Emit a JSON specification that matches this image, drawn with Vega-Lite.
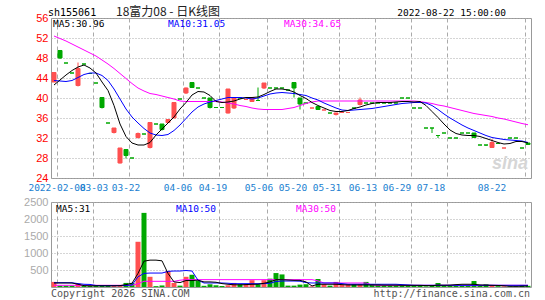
{
"$schema": "https://vega.github.io/schema/vega-lite/v6.json",
"background": "white",
"padding": {"left": 20, "top": 5, "right": 14, "bottom": 0},
"spacing": 3,
"config": {"view": {"stroke": "#999", "strokeWidth": 1}, "text": {"font": "DejaVu Sans Mono"}, "axis": {"labelOverlap": false}},
"datasets": {"k": [
{"d":"2022-02-07","o":43.2,"h":45.1,"l":43.2,"c":45.1,"v":150,"dir":"up","m5":42.6,"m10":43.5,"m30":52.4,"vm5":118,"vm10":127,"vm30":50},
{"d":"2022-02-08","o":49.5,"h":49.6,"l":47.8,"c":48.0,"v":40,"dir":"down","m5":43.6,"m10":43.4,"m30":51.9,"vm5":118,"vm10":127,"vm30":50},
{"d":"2022-02-10","o":47.0,"h":47.0,"l":47.0,"c":47.0,"v":40,"dir":"down","m5":44.6,"m10":43.3,"m30":51.4,"vm5":118,"vm10":127,"vm30":50},
{"d":"2022-02-15","o":45.0,"h":45.0,"l":45.0,"c":45.0,"v":40,"dir":"down","m5":45.5,"m10":43.5,"m30":50.8,"vm5":118,"vm10":125,"vm30":50},
{"d":"2022-02-18","o":42.5,"h":47.1,"l":42.3,"c":45.9,"v":100,"dir":"up","m5":46.2,"m10":44.1,"m30":50.2,"vm5":80,"vm10":100,"vm30":50},
{"d":"2022-02-23","o":46.8,"h":46.8,"l":46.8,"c":46.8,"v":35,"dir":"down","m5":46.6,"m10":44.7,"m30":49.6,"vm5":40,"vm10":80,"vm30":50},
{"d":"2022-02-28","o":44.9,"h":44.9,"l":44.9,"c":44.9,"v":35,"dir":"down","m5":46.0,"m10":45.0,"m30":49.0,"vm5":35,"vm10":75,"vm30":50},
{"d":"2022-03-03","o":43.0,"h":43.0,"l":43.0,"c":43.0,"v":35,"dir":"down","m5":45.0,"m10":45.0,"m30":48.4,"vm5":35,"vm10":45,"vm30":50},
{"d":"2022-03-07","o":40.1,"h":40.1,"l":37.9,"c":38.1,"v":40,"dir":"down","m5":43.2,"m10":44.5,"m30":47.6,"vm5":35,"vm10":40,"vm30":50},
{"d":"2022-03-10","o":35.0,"h":35.0,"l":35.0,"c":35.0,"v":30,"dir":"down","m5":41.5,"m10":43.5,"m30":46.8,"vm5":35,"vm10":40,"vm30":50},
{"d":"2022-03-14","o":33.1,"h":34.0,"l":32.9,"c":34.0,"v":35,"dir":"up","m5":38.5,"m10":41.8,"m30":45.9,"vm5":35,"vm10":40,"vm30":50},
{"d":"2022-03-16","o":27.0,"h":30.0,"l":26.9,"c":30.0,"v":40,"dir":"up","m5":34.8,"m10":39.8,"m30":44.9,"vm5":40,"vm10":40,"vm30":50},
{"d":"2022-03-18","o":29.7,"h":29.7,"l":27.9,"c":28.5,"v":120,"dir":"down","m5":32.3,"m10":37.8,"m30":43.9,"vm5":70,"vm10":45,"vm30":50},
{"d":"2022-03-22","o":28.0,"h":28.0,"l":28.0,"c":28.0,"v":120,"dir":"down","m5":31.0,"m10":36.2,"m30":42.9,"vm5":110,"vm10":60,"vm30":55},
{"d":"2022-03-23","o":32.1,"h":33.1,"l":31.9,"c":32.9,"v":1330,"dir":"up","m5":30.6,"m10":35.0,"m30":42.0,"vm5":400,"vm10":300,"vm30":95},
{"d":"2022-03-24","o":32.8,"h":32.8,"l":32.8,"c":32.8,"v":2180,"dir":"down","m5":30.6,"m10":33.9,"m30":41.4,"vm5":760,"vm10":400,"vm30":167},
{"d":"2022-03-25","o":30.1,"h":35.1,"l":29.9,"c":35.1,"v":300,"dir":"up","m5":31.1,"m10":33.0,"m30":40.9,"vm5":790,"vm10":410,"vm30":167},
{"d":"2022-03-28","o":34.8,"h":34.8,"l":34.8,"c":34.8,"v":25,"dir":"down","m5":32.6,"m10":32.6,"m30":40.7,"vm5":790,"vm10":410,"vm30":167},
{"d":"2022-03-29","o":34.8,"h":34.8,"l":33.5,"c":33.7,"v":45,"dir":"down","m5":33.8,"m10":32.5,"m30":40.4,"vm5":770,"vm10":410,"vm30":167},
{"d":"2022-03-30","o":35.1,"h":35.7,"l":35.0,"c":35.7,"v":470,"dir":"up","m5":35.0,"m10":32.7,"m30":40.1,"vm5":400,"vm10":460,"vm30":167},
{"d":"2022-03-31","o":36.0,"h":39.1,"l":36.0,"c":39.1,"v":120,"dir":"up","m5":36.2,"m10":33.5,"m30":39.8,"vm5":150,"vm10":470,"vm30":167},
{"d":"2022-04-01","o":39.8,"h":39.8,"l":39.8,"c":39.8,"v":40,"dir":"down","m5":37.8,"m10":34.6,"m30":39.4,"vm5":130,"vm10":470,"vm30":200},
{"d":"2022-04-06","o":41.0,"h":42.1,"l":40.8,"c":42.0,"v":300,"dir":"up","m5":39.1,"m10":35.9,"m30":39.3,"vm5":190,"vm10":485,"vm30":216},
{"d":"2022-04-07","o":43.1,"h":43.2,"l":42.0,"c":42.1,"v":360,"dir":"down","m5":40.6,"m10":37.2,"m30":39.3,"vm5":190,"vm10":470,"vm30":216},
{"d":"2022-04-08","o":42.0,"h":42.0,"l":42.0,"c":42.0,"v":180,"dir":"down","m5":41.3,"m10":38.2,"m30":39.3,"vm5":200,"vm10":200,"vm30":216},
{"d":"2022-04-11","o":40.0,"h":40.0,"l":40.0,"c":40.0,"v":35,"dir":"down","m5":41.2,"m10":38.8,"m30":39.3,"vm5":150,"vm10":118,"vm30":216},
{"d":"2022-04-13","o":40.0,"h":40.0,"l":37.9,"c":38.1,"v":80,"dir":"down","m5":40.5,"m10":39.2,"m30":39.3,"vm5":150,"vm10":118,"vm30":216},
{"d":"2022-04-15","o":38.1,"h":38.1,"l":38.1,"c":38.1,"v":50,"dir":"down","m5":39.3,"m10":39.5,"m30":39.3,"vm5":140,"vm10":118,"vm30":216},
{"d":"2022-04-19","o":38.1,"h":38.1,"l":38.1,"c":38.1,"v":30,"dir":"down","m5":39.1,"m10":39.8,"m30":39.2,"vm5":100,"vm10":118,"vm30":216},
{"d":"2022-04-20","o":37.0,"h":41.8,"l":36.9,"c":41.8,"v":50,"dir":"up","m5":39.2,"m10":40.1,"m30":39.0,"vm5":80,"vm10":110,"vm30":216},
{"d":"2022-04-22","o":38.0,"h":40.1,"l":37.8,"c":40.1,"v":120,"dir":"up","m5":39.4,"m10":40.1,"m30":38.8,"vm5":65,"vm10":98,"vm30":216},
{"d":"2022-04-25","o":40.0,"h":40.0,"l":40.0,"c":40.0,"v":80,"dir":"down","m5":39.8,"m10":40.1,"m30":38.5,"vm5":65,"vm10":98,"vm30":216},
{"d":"2022-04-26","o":39.7,"h":39.7,"l":39.7,"c":39.7,"v":80,"dir":"up","m5":40.1,"m10":40.0,"m30":38.3,"vm5":70,"vm10":98,"vm30":216},
{"d":"2022-04-28","o":39.3,"h":40.1,"l":39.2,"c":40.1,"v":200,"dir":"up","m5":40.1,"m10":39.8,"m30":38.0,"vm5":80,"vm10":98,"vm30":216},
{"d":"2022-04-29","o":39.5,"h":42.1,"l":39.4,"c":39.5,"v":80,"dir":"down","m5":40.2,"m10":40.0,"m30":37.8,"vm5":80,"vm10":98,"vm30":216},
{"d":"2022-05-05","o":42.0,"h":43.0,"l":41.8,"c":43.0,"v":200,"dir":"up","m5":40.7,"m10":40.4,"m30":37.7,"vm5":110,"vm10":98,"vm30":216},
{"d":"2022-05-06","o":42.0,"h":42.0,"l":42.0,"c":42.0,"v":245,"dir":"down","m5":41.3,"m10":40.8,"m30":37.7,"vm5":150,"vm10":110,"vm30":216},
{"d":"2022-05-09","o":42.0,"h":42.0,"l":42.0,"c":42.0,"v":410,"dir":"down","m5":41.8,"m10":41.0,"m30":37.7,"vm5":216,"vm10":160,"vm30":216},
{"d":"2022-05-11","o":42.0,"h":42.0,"l":42.0,"c":42.0,"v":370,"dir":"down","m5":41.8,"m10":41.1,"m30":37.7,"vm5":216,"vm10":176,"vm30":216},
{"d":"2022-05-13","o":41.6,"h":41.6,"l":41.6,"c":41.6,"v":40,"dir":"down","m5":41.6,"m10":41.0,"m30":37.9,"vm5":205,"vm10":176,"vm30":216},
{"d":"2022-05-16","o":43.1,"h":43.1,"l":40.1,"c":42.0,"v":40,"dir":"down","m5":41.2,"m10":40.9,"m30":38.1,"vm5":196,"vm10":176,"vm30":216},
{"d":"2022-05-18","o":40.0,"h":40.0,"l":37.7,"c":38.8,"v":70,"dir":"down","m5":40.5,"m10":40.7,"m30":38.5,"vm5":196,"vm10":170,"vm30":216},
{"d":"2022-05-20","o":39.0,"h":39.0,"l":39.0,"c":39.0,"v":80,"dir":"down","m5":39.9,"m10":40.5,"m30":38.9,"vm5":150,"vm10":130,"vm30":216},
{"d":"2022-05-23","o":38.0,"h":38.0,"l":38.0,"c":38.0,"v":20,"dir":"up","m5":39.1,"m10":40.0,"m30":39.2,"vm5":30,"vm10":118,"vm30":216},
{"d":"2022-05-24","o":38.3,"h":38.3,"l":37.6,"c":37.7,"v":235,"dir":"down","m5":38.5,"m10":39.6,"m30":39.4,"vm5":80,"vm10":118,"vm30":180},
{"d":"2022-05-25","o":37.6,"h":37.6,"l":37.6,"c":37.6,"v":80,"dir":"up","m5":38.0,"m10":39.0,"m30":39.4,"vm5":80,"vm10":118,"vm30":118},
{"d":"2022-05-26","o":37.0,"h":37.0,"l":37.0,"c":37.0,"v":40,"dir":"down","m5":37.5,"m10":38.5,"m30":39.4,"vm5":80,"vm10":118,"vm30":118},
{"d":"2022-05-27","o":36.7,"h":37.0,"l":36.5,"c":37.0,"v":150,"dir":"up","m5":37.3,"m10":38.0,"m30":39.4,"vm5":80,"vm10":118,"vm30":118},
{"d":"2022-05-31","o":37.1,"h":37.1,"l":37.1,"c":37.1,"v":60,"dir":"up","m5":37.3,"m10":37.6,"m30":39.4,"vm5":70,"vm10":100,"vm30":118},
{"d":"2022-06-01","o":37.1,"h":37.1,"l":37.1,"c":37.1,"v":80,"dir":"up","m5":37.5,"m10":37.5,"m30":39.4,"vm5":60,"vm10":80,"vm30":118},
{"d":"2022-06-02","o":38.0,"h":38.0,"l":38.0,"c":38.0,"v":80,"dir":"down","m5":37.9,"m10":37.6,"m30":39.4,"vm5":60,"vm10":80,"vm30":118},
{"d":"2022-06-06","o":38.7,"h":40.1,"l":38.5,"c":39.6,"v":80,"dir":"up","m5":38.2,"m10":37.7,"m30":39.4,"vm5":60,"vm10":80,"vm30":118},
{"d":"2022-06-08","o":39.0,"h":39.0,"l":39.0,"c":39.0,"v":150,"dir":"down","m5":38.6,"m10":37.8,"m30":39.4,"vm5":60,"vm10":80,"vm30":118},
{"d":"2022-06-10","o":39.0,"h":39.0,"l":39.0,"c":39.0,"v":80,"dir":"down","m5":38.9,"m10":37.9,"m30":39.4,"vm5":60,"vm10":80,"vm30":60},
{"d":"2022-06-13","o":39.0,"h":39.0,"l":39.0,"c":39.0,"v":70,"dir":"down","m5":39.1,"m10":38.1,"m30":39.4,"vm5":60,"vm10":80,"vm30":50},
{"d":"2022-06-15","o":39.0,"h":39.0,"l":39.0,"c":39.0,"v":50,"dir":"down","m5":39.1,"m10":38.3,"m30":39.4,"vm5":55,"vm10":80,"vm30":50},
{"d":"2022-06-17","o":39.0,"h":39.0,"l":39.0,"c":39.0,"v":50,"dir":"down","m5":39.1,"m10":38.5,"m30":39.4,"vm5":55,"vm10":80,"vm30":50},
{"d":"2022-06-21","o":39.0,"h":39.0,"l":39.0,"c":39.0,"v":50,"dir":"down","m5":39.2,"m10":38.7,"m30":39.4,"vm5":55,"vm10":80,"vm30":50},
{"d":"2022-06-23","o":40.0,"h":40.0,"l":40.0,"c":40.0,"v":50,"dir":"down","m5":39.3,"m10":38.9,"m30":39.4,"vm5":50,"vm10":70,"vm30":50},
{"d":"2022-06-27","o":40.0,"h":40.0,"l":40.0,"c":40.0,"v":50,"dir":"down","m5":39.3,"m10":39.0,"m30":39.4,"vm5":50,"vm10":60,"vm30":50},
{"d":"2022-06-29","o":38.0,"h":38.0,"l":38.0,"c":38.0,"v":50,"dir":"down","m5":39.2,"m10":39.1,"m30":39.4,"vm5":50,"vm10":50,"vm30":50},
{"d":"2022-07-01","o":38.0,"h":38.0,"l":38.0,"c":38.0,"v":40,"dir":"down","m5":39.3,"m10":39.1,"m30":39.3,"vm5":48,"vm10":50,"vm30":50},
{"d":"2022-07-05","o":34.0,"h":34.0,"l":34.0,"c":34.0,"v":20,"dir":"down","m5":38.5,"m10":39.0,"m30":39.1,"vm5":42,"vm10":50,"vm30":50},
{"d":"2022-07-07","o":34.0,"h":34.0,"l":33.0,"c":34.0,"v":40,"dir":"down","m5":37.3,"m10":38.5,"m30":38.9,"vm5":40,"vm10":50,"vm30":50},
{"d":"2022-07-11","o":32.5,"h":32.5,"l":32.0,"c":32.5,"v":118,"dir":"down","m5":36.1,"m10":37.7,"m30":38.6,"vm5":55,"vm10":50,"vm30":50},
{"d":"2022-07-14","o":33.0,"h":33.0,"l":33.0,"c":33.0,"v":40,"dir":"down","m5":34.8,"m10":36.8,"m30":38.4,"vm5":52,"vm10":50,"vm30":50},
{"d":"2022-07-18","o":32.0,"h":32.0,"l":32.0,"c":32.0,"v":50,"dir":"down","m5":33.6,"m10":36.0,"m30":38.1,"vm5":55,"vm10":50,"vm30":50},
{"d":"2022-07-19","o":32.0,"h":32.0,"l":32.0,"c":32.0,"v":40,"dir":"down","m5":32.9,"m10":35.3,"m30":37.8,"vm5":70,"vm10":50,"vm30":50},
{"d":"2022-07-21","o":33.0,"h":33.0,"l":33.0,"c":33.0,"v":40,"dir":"down","m5":32.6,"m10":34.6,"m30":37.5,"vm5":80,"vm10":50,"vm30":50},
{"d":"2022-07-25","o":33.0,"h":33.0,"l":33.0,"c":33.0,"v":40,"dir":"down","m5":32.5,"m10":34.0,"m30":37.2,"vm5":80,"vm10":50,"vm30":50},
{"d":"2022-07-27","o":33.0,"h":33.0,"l":32.1,"c":32.1,"v":176,"dir":"down","m5":32.5,"m10":33.5,"m30":36.9,"vm5":80,"vm10":50,"vm30":50},
{"d":"2022-07-29","o":30.6,"h":30.6,"l":30.6,"c":30.6,"v":30,"dir":"down","m5":32.3,"m10":33.0,"m30":36.7,"vm5":60,"vm10":50,"vm30":50},
{"d":"2022-08-02","o":30.6,"h":30.6,"l":30.4,"c":30.6,"v":80,"dir":"down","m5":31.9,"m10":32.5,"m30":36.5,"vm5":55,"vm10":50,"vm30":50},
{"d":"2022-08-04","o":30.1,"h":31.8,"l":30.1,"c":31.1,"v":35,"dir":"up","m5":31.5,"m10":32.1,"m30":36.3,"vm5":50,"vm10":50,"vm30":50},
{"d":"2022-08-08","o":30.9,"h":30.9,"l":30.9,"c":30.9,"v":24,"dir":"down","m5":31.1,"m10":31.9,"m30":36.0,"vm5":45,"vm10":50,"vm30":50},
{"d":"2022-08-10","o":30.0,"h":30.0,"l":30.0,"c":30.0,"v":20,"dir":"up","m5":30.8,"m10":31.7,"m30":35.8,"vm5":35,"vm10":50,"vm30":50},
{"d":"2022-08-12","o":32.0,"h":32.0,"l":32.0,"c":32.0,"v":20,"dir":"down","m5":30.9,"m10":31.6,"m30":35.5,"vm5":22,"vm10":50,"vm30":50},
{"d":"2022-08-16","o":32.0,"h":32.0,"l":32.0,"c":32.0,"v":20,"dir":"down","m5":31.3,"m10":31.5,"m30":35.2,"vm5":20,"vm10":50,"vm30":50},
{"d":"2022-08-18","o":30.0,"h":30.0,"l":30.0,"c":30.0,"v":60,"dir":"down","m5":31.3,"m10":31.4,"m30":34.9,"vm5":25,"vm10":50,"vm30":50},
{"d":"2022-08-22","o":31.0,"h":31.0,"l":30.7,"c":30.7,"v":35,"dir":"down","m5":31.0,"m10":31.1,"m30":34.65,"vm5":31,"vm10":50,"vm30":50}
]},
"vconcat": [
{
"width": 480, "height": 160,
"data": {"name": "k"},
"encoding": {"x": {"field": "d", "type": "ordinal", "scale": {"type": "band", "paddingInner": 0, "paddingOuter": 0},
  "axis": {"title": null, "values": ["2022-02-08","2022-03-03","2022-03-22","2022-04-06","2022-04-19","2022-05-06","2022-05-20","2022-05-31","2022-06-13","2022-06-29","2022-07-18","2022-08-22"],
    "labelExpr": "datum.value == '2022-02-08' ? datum.value : substring(datum.value, 5)",
    "bandPosition": 0, "grid": true, "gridDash": [4, 3], "gridColor": "#aaa", "ticks": false, "domain": false,
    "labelAngle": 0, "labelAlign": "center", "labelBaseline": "top",
    "labelColor": "#1a80d0", "labelFont": "DejaVu Sans Mono", "labelFontSize": 9.5, "labelPadding": 4,
    "labelOverlap": false, "labelFlush": false, "labelBound": false,
    "labelOffset": {"expr": "datum.value=='2022-02-08'?-3:datum.value=='2022-03-03'?-2:datum.value=='2022-03-22'?-6:datum.value=='2022-04-06'?-8:datum.value=='2022-04-19'?-9:datum.value=='2022-05-06'?-11:datum.value=='2022-05-20'?-13:datum.value=='2022-05-31'?-15:datum.value=='2022-06-13'?-15:datum.value=='2022-06-29'?-17:datum.value=='2022-07-18'?-19:-36"},
    "minExtent": 10, "maxExtent": 10}}},
"layer": [
 {"mark": {"type": "rule", "strokeWidth": 1},
  "encoding": {
   "y": {"field": "l", "type": "quantitative", "scale": {"domain": [24, 56], "nice": false, "zero": false},
     "axis": {"title": null, "values": [24,28,32,36,40,44,48,52,56], "tickCount": 20, "grid": true, "gridDash": [1, 2], "gridColor": "#aaa", "ticks": false, "domain": false, "labelOverlap": false,
       "labelColor": "#ff0000", "labelFont": "Liberation Sans", "labelFontSize": 11, "labelPadding": 3, "labelFlush": false, "minExtent": 30, "maxExtent": 30}},
   "y2": {"field": "h"},
   "color": {"field": "dir", "type": "nominal", "scale": {"domain": ["up", "down"], "range": ["#ff5050", "#00a800"]}, "legend": null}}},
 {"mark": {"type": "bar", "width": {"band": 0.67}, "strokeWidth": 1},
  "encoding": {
   "y": {"field": "o", "type": "quantitative"},
   "y2": {"field": "c"},
   "color": {"field": "dir", "type": "nominal", "scale": {"domain": ["up", "down"], "range": ["#ff5050", "#00a800"]}, "legend": null},
   "stroke": {"field": "dir", "type": "nominal", "scale": {"domain": ["up", "down"], "range": ["#ff5050", "#00a800"]}, "legend": null}}},
 {"mark": {"type": "line", "color": "#ff00ff", "strokeWidth": 1}, "encoding": {"y": {"field": "m30", "type": "quantitative"}}},
 {"mark": {"type": "line", "color": "#0000ff", "strokeWidth": 1}, "encoding": {"y": {"field": "m10", "type": "quantitative"}}},
 {"mark": {"type": "line", "color": "#000000", "strokeWidth": 1}, "encoding": {"y": {"field": "m5", "type": "quantitative"}}},
 {"data": {"values": [{}]}, "mark": {"type": "text", "text": "sh155061", "align": "left", "baseline": "alphabetic", "dx": -6, "fontSize": 10, "color": "#000"},
  "encoding": {"x": {"datum": "2022-02-07", "type": "ordinal"}, "y": {"datum": 56.5, "type": "quantitative"}}},
 {"data": {"values": [{}]}, "mark": {"type": "text", "text": "18富力08 - 日K线图", "align": "left", "baseline": "alphabetic", "dx": 2, "font": "Noto Sans CJK SC", "fontSize": 12, "color": "#222"},
  "encoding": {"x": {"datum": "2022-03-14", "type": "ordinal"}, "y": {"datum": 56.5, "type": "quantitative"}}},
 {"data": {"values": [{}]}, "mark": {"type": "text", "text": "2022-08-22 15:00:00", "align": "right", "baseline": "alphabetic", "dx": 2, "fontSize": 9.5, "color": "#000"},
  "encoding": {"x": {"datum": "2022-08-10", "type": "ordinal"}, "y": {"datum": 56.5, "type": "quantitative"}}},
 {"data": {"values": [{}]}, "mark": {"type": "text", "text": "MA5:30.96", "align": "left", "baseline": "alphabetic", "dx": -1, "fontSize": 9.5, "color": "#000"},
  "encoding": {"x": {"datum": "2022-02-07", "type": "ordinal"}, "y": {"datum": 54.15, "type": "quantitative"}}},
 {"data": {"values": [{}]}, "mark": {"type": "text", "text": "MA10:31.05", "align": "left", "baseline": "alphabetic", "dx": 0, "fontSize": 9.5, "color": "#0000ff"},
  "encoding": {"x": {"datum": "2022-03-30", "type": "ordinal"}, "y": {"datum": 54.15, "type": "quantitative"}}},
 {"data": {"values": [{}]}, "mark": {"type": "text", "text": "MA30:34.65", "align": "left", "baseline": "alphabetic", "dx": 2, "fontSize": 9.5, "color": "#ff00ff"},
  "encoding": {"x": {"datum": "2022-05-11", "type": "ordinal"}, "y": {"datum": 54.15, "type": "quantitative"}}},
 {"data": {"values": [{}]}, "mark": {"type": "text", "text": "sina", "align": "center", "baseline": "alphabetic", "font": "Liberation Sans", "fontSize": 18, "fontWeight": "bold", "fontStyle": "italic", "color": "#d6d6d6"},
  "encoding": {"x": {"datum": "2022-08-12", "type": "ordinal"}, "y": {"datum": 25.9, "type": "quantitative"}}}
]
},
{
"width": 480, "height": 85,
"data": {"name": "k"},
"encoding": {"x": {"field": "d", "type": "ordinal", "scale": {"type": "band", "paddingInner": 0, "paddingOuter": 0},
  "axis": {"title": null, "values": ["2022-02-08","2022-03-03","2022-03-22","2022-04-06","2022-04-19","2022-05-06","2022-05-20","2022-05-31","2022-06-13","2022-06-29","2022-07-18","2022-08-22"],
    "bandPosition": 0, "grid": true, "gridDash": [4, 3], "gridColor": "#aaa", "ticks": false, "domain": false, "labels": false, "minExtent": 0, "maxExtent": 0}}},
"layer": [
 {"mark": {"type": "bar", "width": {"band": 0.834}},
  "encoding": {
   "y": {"field": "v", "type": "quantitative", "scale": {"domain": [0, 2500], "nice": false},
     "axis": {"title": null, "values": [500,1000,1500,2000,2500], "tickCount": 20, "format": "d", "grid": true, "gridDash": [1, 2], "gridColor": "#aaa", "ticks": false, "domain": false, "labelOverlap": false,
       "labelColor": "#aaa", "labelFont": "Liberation Sans", "labelFontSize": 11, "labelPadding": 3, "labelFlush": false, "minExtent": 30, "maxExtent": 30}},
   "color": {"field": "dir", "type": "nominal", "scale": {"domain": ["up", "down"], "range": ["#ff5050", "#00a800"]}, "legend": null}}},
 {"mark": {"type": "line", "color": "#ff00ff", "strokeWidth": 1}, "encoding": {"y": {"field": "vm30", "type": "quantitative"}}},
 {"mark": {"type": "line", "color": "#0000ff", "strokeWidth": 1}, "encoding": {"y": {"field": "vm10", "type": "quantitative"}}},
 {"mark": {"type": "line", "color": "#000000", "strokeWidth": 1}, "encoding": {"y": {"field": "vm5", "type": "quantitative"}}},
 {"data": {"values": [{}]}, "mark": {"type": "text", "text": "MA5:31", "align": "left", "baseline": "alphabetic", "dx": 2, "fontSize": 9.5, "color": "#000"},
  "encoding": {"x": {"datum": "2022-02-07", "type": "ordinal"}, "y": {"datum": 2205, "type": "quantitative"}}},
 {"data": {"values": [{}]}, "mark": {"type": "text", "text": "MA10:50", "align": "left", "baseline": "alphabetic", "dx": 2, "fontSize": 9.5, "color": "#0000ff"},
  "encoding": {"x": {"datum": "2022-03-31", "type": "ordinal"}, "y": {"datum": 2205, "type": "quantitative"}}},
 {"data": {"values": [{}]}, "mark": {"type": "text", "text": "MA30:50", "align": "left", "baseline": "alphabetic", "dx": 2, "fontSize": 9.5, "color": "#ff00ff"},
  "encoding": {"x": {"datum": "2022-05-16", "type": "ordinal"}, "y": {"datum": 2205, "type": "quantitative"}}},
 {"data": {"values": [{}]}, "mark": {"type": "text", "text": "Copyright 2026 SINA.COM", "align": "left", "baseline": "alphabetic", "dx": -3, "fontSize": 10, "color": "#555"},
  "encoding": {"x": {"datum": "2022-02-07", "type": "ordinal"}, "y": {"datum": -300, "type": "quantitative"}}},
 {"data": {"values": [{}]}, "mark": {"type": "text", "text": "http://finance.sina.com.cn", "align": "right", "baseline": "alphabetic", "dx": 2, "fontSize": 10, "color": "#555"},
  "encoding": {"x": {"datum": "2022-08-22", "type": "ordinal"}, "y": {"datum": -300, "type": "quantitative"}}}
]
}
]
}
